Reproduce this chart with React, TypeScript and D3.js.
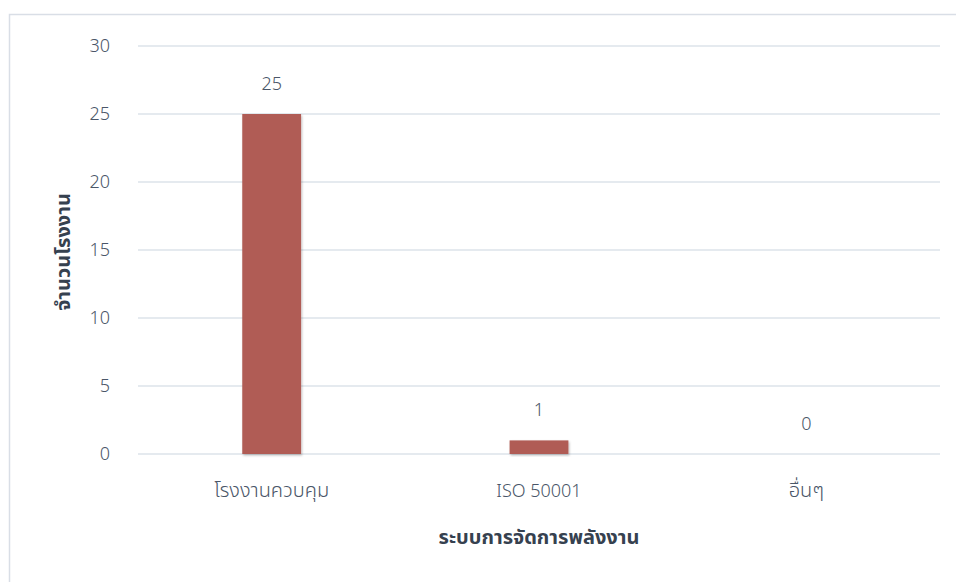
import React from "react";
import * as d3 from "d3";

const categories = ["โรงงานควบคุม", "ISO 50001", "อื่นๆ"];
const values = [25, 1, 0];
const yTicks = [0, 5, 10, 15, 20, 25, 30];
const xTitle = "ระบบการจัดการพลังงาน";
const yTitle = "จำนวนโรงงาน";

const W = 956;
const H = 582;
const FONT = "'Noto Sans', 'Noto Sans Thai', 'DejaVu Sans', sans-serif";
const TEXT = "#4A5668";
const TITLE = "#36414F";

export default function App() {
  const x = d3.scaleBand<string>().domain(categories).range([138, 940]).paddingInner(0).paddingOuter(0);
  const y = d3.scaleLinear().domain([0, 30]).range([454, 46]);
  const barW = x.bandwidth() * 0.22;

  return (
    <svg width={W} height={H} style={{ position: "absolute", left: 0, top: 0 }}>
      <defs>
        <filter id="sh" x="-20%" y="-20%" width="140%" height="140%">
          <feDropShadow dx="1" dy="1.5" stdDeviation="1.2" floodColor="#000" floodOpacity="0.25" />
        </filter>
      </defs>
      <rect x={0} y={0} width={W} height={H} fill="#fff" />
      <rect x={9.5} y={14.5} width={W + 10} height={H + 10} fill="none" stroke="#D9DEE6" strokeWidth={1.5} />
      {yTicks.map((t) => (
        <g key={t}>
          <line x1={138} x2={940} y1={y(t)} y2={y(t)} stroke="#DDE3EA" strokeWidth={1.5} />
          <text x={110} y={y(t)} dy="0.35em" textAnchor="end" fontFamily={FONT} fontSize={18} fontWeight={300} fill={TEXT}>
            {t}
          </text>
        </g>
      ))}
      {categories.map((c, i) => {
        const cx = (x(c) as number) + x.bandwidth() / 2;
        const v = values[i];
        return (
          <g key={c}>
            {v > 0 && (
              <rect x={cx - barW / 2} y={y(v)} width={barW} height={y(0) - y(v)} fill="#B05C55" filter="url(#sh)" />
            )}
            <text x={cx} y={y(v) - 24} textAnchor="middle" fontFamily={FONT} fontSize={18} fontWeight={300} fill={TEXT}>
              {v}
            </text>
            <text x={cx} y={497} textAnchor="middle" fontFamily={FONT} fontSize={i === 1 ? 18 : 20} fontWeight={300} fill={TEXT}>
              {c}
            </text>
          </g>
        );
      })}
      <text x={539} y={544} textAnchor="middle" fontFamily={FONT} fontSize={20} fontWeight="bold" fill={TITLE}>
        {xTitle}
      </text>
      <text
        transform={`translate(70,252) rotate(-90)`}
        textAnchor="middle"
        fontFamily={FONT}
        fontSize={20}
        fontWeight="bold"
        fill={TITLE}
      >
        {yTitle}
      </text>
    </svg>
  );
}
